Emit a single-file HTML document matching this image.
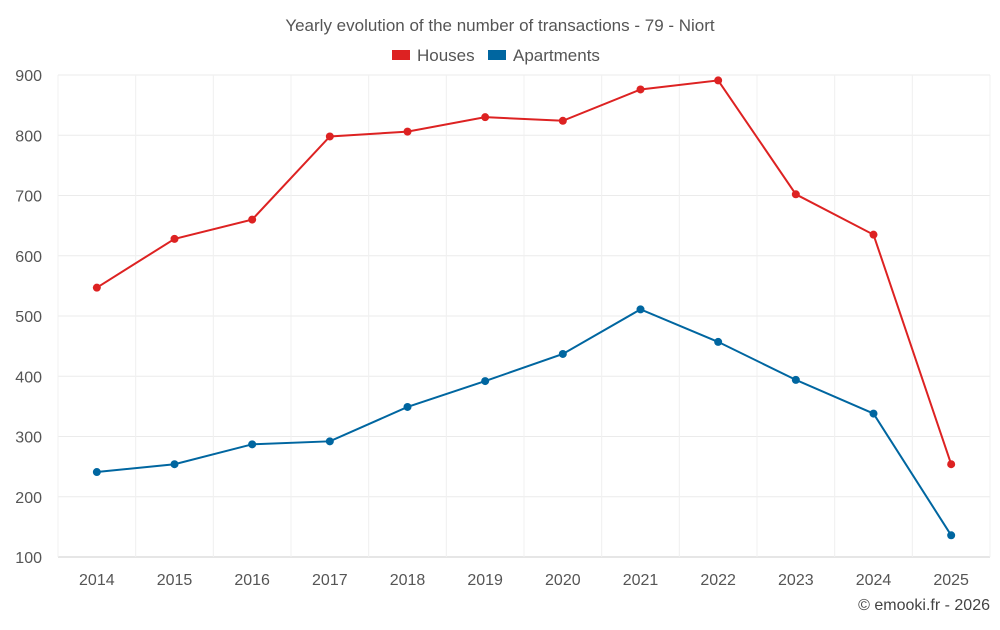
<!DOCTYPE html>
<html><head><meta charset="utf-8"><style>
body{margin:0;background:#fff;font-family:"Liberation Sans",sans-serif;}
svg text{font-family:"Liberation Sans",sans-serif;}
</style></head><body>
<svg id="chart" width="1000" height="625">
<text x="500" y="31" text-anchor="middle" font-size="17" fill="#555">Yearly evolution of the number of transactions - 79 - Niort</text>
<g>
<g><rect x="392" y="50" width="18" height="10" fill="#dd2222"/><text x="417" y="61" font-size="17" fill="#555">Houses</text></g>
<g><rect x="488" y="50" width="18" height="10" fill="#0066a0"/><text x="513" y="61" font-size="17" fill="#555">Apartments</text></g>
</g>
<g id="grid"></g>
<g id="axes"></g>
<g id="series"></g>
<text x="990" y="610" text-anchor="end" font-size="16" fill="#444">© emooki.fr - 2026</text>
</svg>
<script>
const years=[2014,2015,2016,2017,2018,2019,2020,2021,2022,2023,2024,2025];
const houses=[547,628,660,798,806,830,824,876,891,702,635,254];
const apartments=[241,254,287,292,349,392,437,511,457,394,338,136];
const yTicks=[100,200,300,400,500,600,700,800,900];
const L=58,R=990,T=75,B=557,ymin=100,ymax=900;
const NS="http://www.w3.org/2000/svg";
const step=(R-L)/years.length;
const xs=i=>L+step*(i+0.5);
const ys=v=>B-(v-ymin)/(ymax-ymin)*(B-T);
function mk(t,a,p){const e=document.createElementNS(NS,t);for(const k in a)e.setAttribute(k,a[k]);p.appendChild(e);return e;}
const grid=document.getElementById('grid'),axes=document.getElementById('axes'),ser=document.getElementById('series');
yTicks.forEach(v=>{
 const l=mk('line',{x1:L,x2:R,y1:ys(v),y2:ys(v),stroke:v===ymin?'#ccc':'#ebebeb'},grid);
 
 
 const t=mk('text',{x:42,y:ys(v)+6,'text-anchor':'end','font-size':16,fill:'#555'},axes);
 t.textContent=v;
 
 
});
for(let i=0;i<=years.length;i++){
 const l=mk('line',{x1:L+step*i,x2:L+step*i,y1:T,y2:B,stroke:'#f0f0f0'},grid);
 
 
}
years.forEach((y,i)=>{
 const t=mk('text',{x:xs(i),y:585,'text-anchor':'middle','font-size':16,fill:'#555'},axes);
 t.textContent=y;
 
 
});
function draw(vals,color,name){
 const p=mk('polyline',{points:vals.map((v,i)=>xs(i)+','+ys(v)).join(' '),fill:'none',stroke:color,'stroke-width':2},ser);
 
 
 vals.forEach((v,i)=>{
  const c=mk('circle',{cx:xs(i),cy:ys(v),r:4,fill:color},ser);
  
  
 });
}
draw(houses,'#dd2222','houses');
draw(apartments,'#0066a0','apartments');
</script>
</body></html>
